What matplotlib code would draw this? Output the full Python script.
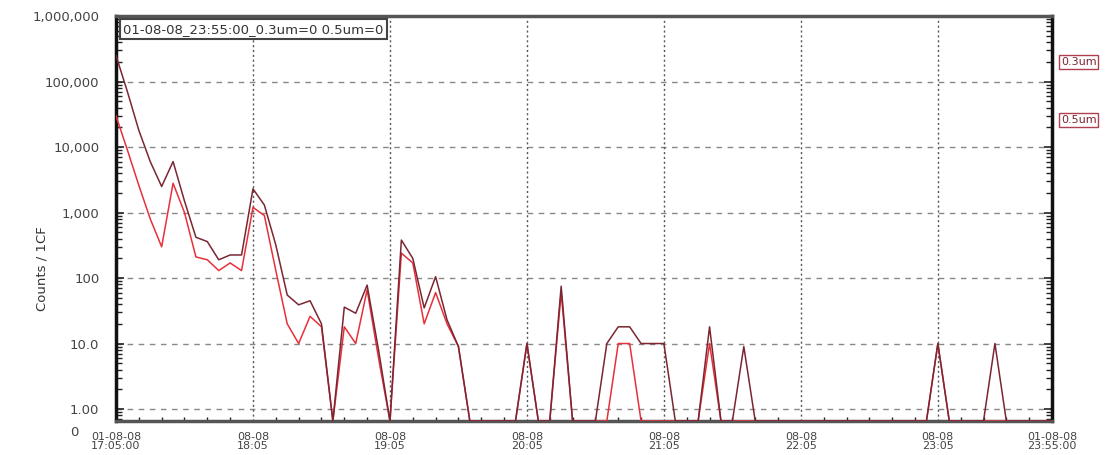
import matplotlib
matplotlib.use('Agg')
import matplotlib.pyplot as plt
import matplotlib.dates as mdates
import matplotlib.transforms as mtransforms
import numpy as np
import pandas as pd

# 5 minute samples, 01-08-08 17:05:00 .. 23:55:00
times = pd.date_range('2008-08-01 17:05', '2008-08-01 23:55', freq='5min')

counts_03 = [250000, 70000, 18000, 6000, 2500, 6000, 1500, 420, 360, 190,
             225, 225, 2300, 1300, 320, 55, 39, 45, 20, 0,
             36, 29, 78, 8, 0, 380, 200, 35, 105, 23,
             9, 0, 0, 0, 0, 0, 10, 0, 0, 75,
             0, 0, 0, 10, 18, 18, 10, 10, 10, 0,
             0, 0, 18, 0, 0, 9, 0, 0, 0, 0,
             0, 0, 0, 0, 0, 0, 0, 0, 0, 0,
             0, 0, 10, 0, 0, 0, 0, 10, 0, 0,
             0, 0, 0]
counts_05 = [30000, 9000, 2600, 800, 300, 2800, 1000, 210, 190, 130,
             170, 130, 1200, 900, 130, 20, 10, 26, 18, 0,
             18, 10, 66, 6, 0, 240, 170, 20, 60, 20,
             9, 0, 0, 0, 0, 0, 10, 0, 0, 60,
             0, 0, 0, 0, 10, 10, 0, 0, 0, 0,
             0, 0, 10, 0, 0, 0, 0, 0, 0, 0,
             0, 0, 0, 0, 0, 0, 0, 0, 0, 0,
             0, 0, 10, 0, 0, 0, 0, 0, 0, 0,
             0, 0, 0]

ytick_vals = [1, 10, 100, 1000, 10000, 100000, 1000000]
ytick_labels = ['1.00', '10.0', '100', '1,000', '10,000', '100,000', '1,000,000']
xtick_times = ['17:05', '18:05', '19:05', '20:05', '21:05', '22:05', '23:05', '23:55']
xtick_labels = ['01-08-08\n17:05:00', '08-08\n18:05', '08-08\n19:05', '08-08\n20:05',
                '08-08\n21:05', '08-08\n22:05', '08-08\n23:05', '01-08-08\n23:55:00']
legend_text = '01-08-08_23:55:00_0.3um=0 0.5um=0'

c03 = '#7a2633'
c05 = '#e8303a'
ymin = 10 ** -0.183

fig = plt.figure(figsize=(11.09, 4.55), dpi=100)
ax = fig.add_axes([0.1046, 0.0747, 0.844, 0.890])

y03 = np.where(np.array(counts_03) > 0, counts_03, ymin)
y05 = np.where(np.array(counts_05) > 0, counts_05, ymin)
ax.plot(times, y05, color=c05, lw=1.1, zorder=3)
ax.plot(times, y03, color=c03, lw=1.1, zorder=4)

ax.set_yscale('log')
ax.set_ylim(ymin, 1e6)
ax.set_xlim(times[0], times[-1])

ax.set_yticks(ytick_vals)
ax.set_yticklabels(ytick_labels, fontsize=9.5, color='#444')
xt = [pd.Timestamp('2008-08-01 ' + t) for t in xtick_times]
ax.set_xticks(xt)
ax.set_xticklabels(xtick_labels, fontsize=8, color='#444', linespacing=0.8)
ax.xaxis.set_minor_locator(mdates.MinuteLocator(byminute=[5, 15, 25, 35, 45, 55]))

ax.tick_params(axis='both', which='both', direction='in', right=True, colors='#222')
ax.tick_params(axis='y', which='major', length=6, width=1.2, pad=12)
ax.tick_params(axis='y', which='minor', length=4, width=1)
ax.tick_params(axis='x', which='major', length=0, pad=8)
ax.tick_params(axis='x', which='minor', length=3, width=1)
for lbl in ax.get_xticklabels() + ax.get_yticklabels():
    lbl.set_color('#444')

# grid
for v in ytick_vals[:-1]:
    ax.axhline(v, color='#888', lw=1, ls=(0, (4, 4)), zorder=1)
for t in xt[1:-1]:
    ax.axvline(t, color='#555', lw=1, ls=(0, (1.5, 2)), zorder=1)

for side in ['left', 'right']:
    ax.spines[side].set_linewidth(2.5)
    ax.spines[side].set_color('#111')
ax.spines['bottom'].set_linewidth(2.5)
ax.spines['bottom'].set_color('#555')
ax.spines['top'].set_linewidth(2.5)
ax.spines['top'].set_color('#555')

trans = mtransforms.blended_transform_factory(ax.transAxes, ax.transAxes)
ax.text(-0.04, -0.028, '0', transform=trans, ha='right', va='center', fontsize=9.5, color='#444')

fig.text(0.038, 0.41, 'Counts / 1CF', rotation=90, ha='center', va='center', fontsize=9.5, color='#333')

ax.text(0.008, 0.984, legend_text, transform=ax.transAxes, ha='left', va='top',
        fontsize=9.5, color='#333',
        bbox=dict(boxstyle='square,pad=0.25', fc='white', ec='#444', lw=1.5), zorder=5)

fig.text(1061 / 1109, 1 - 62 / 455, '0.3um', fontsize=8, color=c03, va='center', ha='left',
         bbox=dict(boxstyle='square,pad=0.15', fc='white', ec='#b04050', lw=1))
fig.text(1061 / 1109, 1 - 120 / 455, '0.5um', fontsize=8, color=c03, va='center', ha='left',
         bbox=dict(boxstyle='square,pad=0.15', fc='white', ec='#b04050', lw=1))

plt.savefig('out.png', dpi=100)
